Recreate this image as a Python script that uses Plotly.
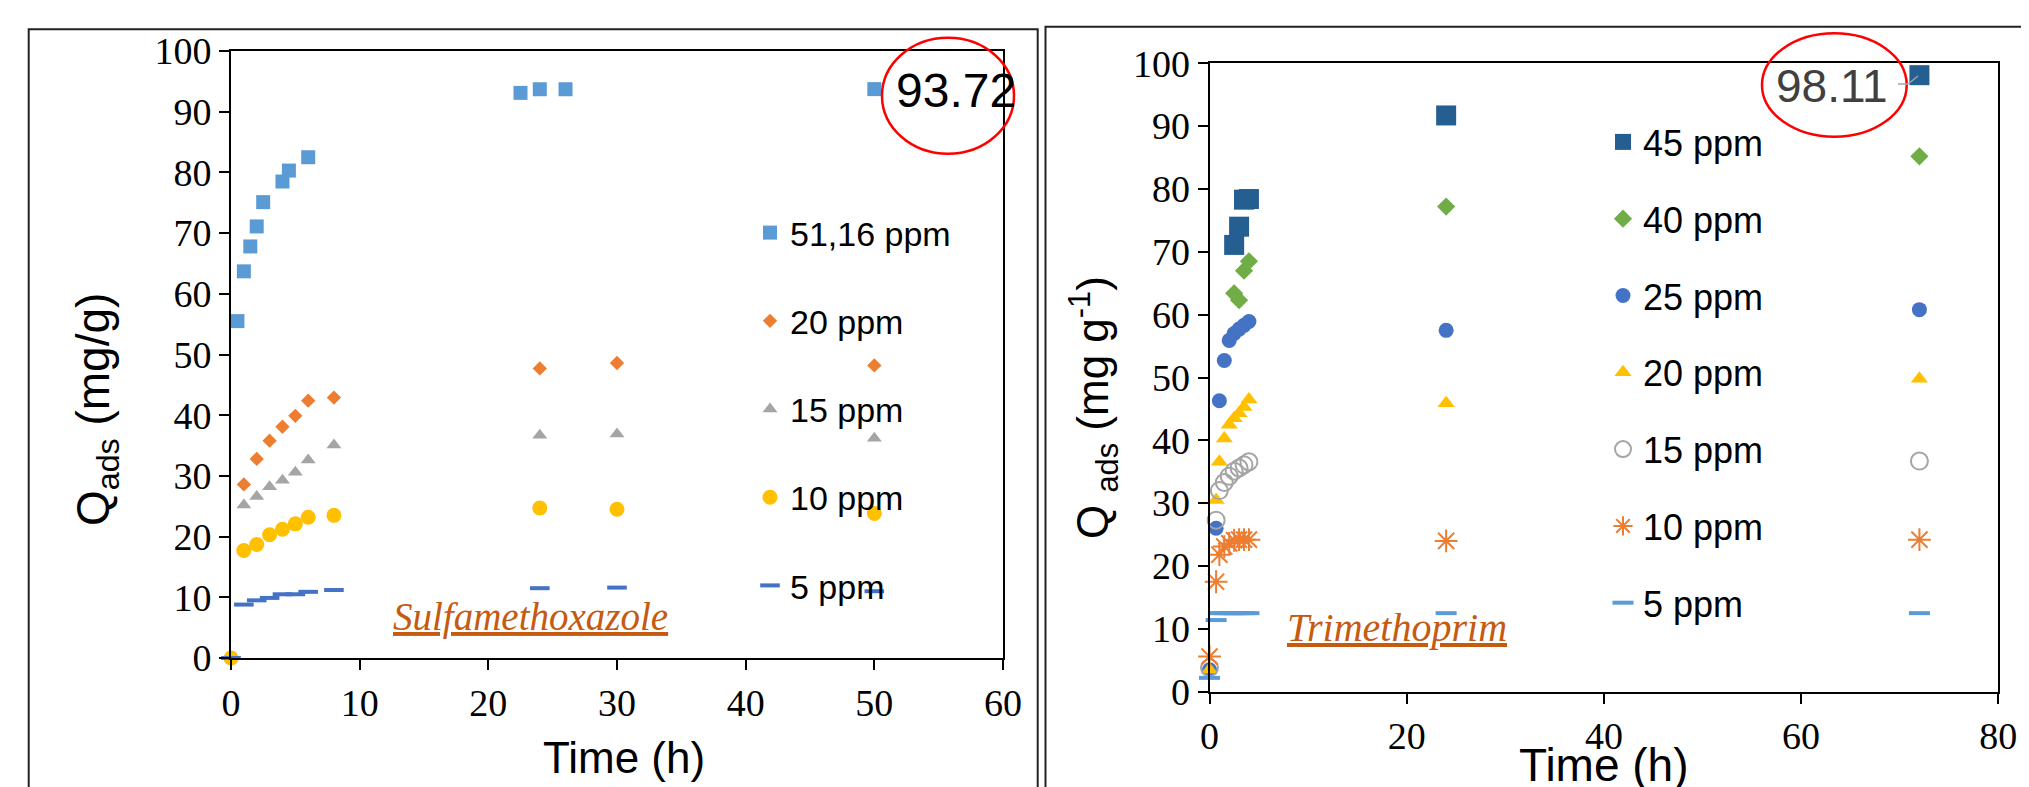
import plotly.graph_objects as go

W, H = 2029, 787
OFFSET = 8  # page body margin of the html page

# ---------------- data: Sulfamethoxazole (left) ----------------
SMX_TIME_51 = [0.5, 1, 1.5, 2, 2.5, 4, 4.5, 6, 22.5, 24, 26, 50]
SMX_Q_51 = [55.5, 63.7, 67.8, 71.1, 75.1, 78.5, 80.3, 82.5, 93.1, 93.7, 93.7, 93.72]
SMX_TIME = [0, 1, 2, 3, 4, 5, 6, 8, 24, 30, 50]
SMX_Q_20 = [0, 28.6, 32.8, 35.8, 38.1, 39.9, 42.4, 42.9, 47.7, 48.6, 48.2]
SMX_Q_15 = [0, 25.2, 26.6, 28.2, 29.3, 30.6, 32.6, 35.1, 36.7, 36.9, 36.2]
SMX_Q_10 = [0, 17.7, 18.7, 20.3, 21.2, 22.1, 23.2, 23.5, 24.7, 24.5, 23.8]
SMX_Q_5 = [0, 8.8, 9.5, 9.9, 10.5, 10.5, 10.9, 11.2, 11.5, 11.6, 11.0]
SMX_LABELS = ["51,16 ppm", "20 ppm", "15 ppm", "10 ppm", "5 ppm"]
SMX_X_TICKS = [0, 10, 20, 30, 40, 50, 60]

# ---------------- data: Trimethoprim (right) ----------------
TMP_TIME = [0, 0.67, 1, 1.5, 2, 2.5, 3, 3.5, 4, 24, 72]
TMP_Q_45 = [None, None, None, None, None, 71.1, 74.0, 78.3, 78.4, 91.7, 98.11]
TMP_Q_40 = [None, None, None, None, None, 63.4, 62.3, 67.0, 68.5, 77.2, 85.2]
TMP_Q_25 = [3.5, 26.0, 46.3, 52.7, 55.9, 57.0, 57.7, 58.3, 58.9, 57.5, 60.8]
TMP_Q_20 = [3.5, 30.5, 36.6, 40.3, 42.5, 43.5, 44.3, 45.3, 46.5, 45.9, 49.8]
TMP_Q_15 = [3.8, 27.3, 32.0, 33.3, 34.3, 35.1, 35.6, 36.1, 36.6, None, 36.7]
TMP_Q_10 = [5.6, 17.5, 21.8, 23.1, 23.6, 24.1, 24.2, 24.2, 24.2, 24.0, 24.2]
TMP_Q_5 = [2.2, 11.4, 12.5, 12.5, 12.5, 12.5, 12.5, 12.5, 12.5, 12.5, 12.5]
TMP_LABELS = ["45 ppm", "40 ppm", "25 ppm", "20 ppm", "15 ppm", "10 ppm", "5 ppm"]
TMP_X_TICKS = [0, 20, 40, 60, 80]
Y_TICKS = [0, 10, 20, 30, 40, 50, 60, 70, 80, 90, 100]

SERIF = "Liberation Serif, Times New Roman, serif"
SANS = "Liberation Sans, Arial, sans-serif"


def px(x):
    return (x - OFFSET) / W


def py(y):
    return 1 - (y - OFFSET) / H


fig = go.Figure()

left_series = [
    (SMX_TIME_51, SMX_Q_51, dict(symbol="square", size=14, color="#5B9BD5")),
    (SMX_TIME, SMX_Q_20, dict(symbol="diamond", size=11, color="#ED7D31")),
    (SMX_TIME, SMX_Q_15, dict(symbol="triangle-up", size=13, color="#A5A5A5")),
    (SMX_TIME, SMX_Q_10, dict(symbol="circle", size=15, color="#FFC000")),
    (SMX_TIME, SMX_Q_5, dict(symbol="line-ew", size=14, color="#4472C4",
                              line=dict(color="#4472C4", width=4))),
]
for i, (xs, ys, mk) in enumerate(left_series):
    fig.add_trace(go.Scatter(
        x=xs, y=ys, mode="markers", marker=mk, name=SMX_LABELS[i],
        xaxis="x", yaxis="y", legend="legend", legendgroup="L%d" % i,
        cliponaxis=False, showlegend=True))

right_series = [
    (TMP_Q_45, dict(symbol="square", size=20, color="#255E91")),
    (TMP_Q_40, dict(symbol="diamond", size=14, color="#70AD47")),
    (TMP_Q_25, dict(symbol="circle", size=15, color="#4472C4")),
    (TMP_Q_20, dict(symbol="triangle-up", size=15, color="#FFC000")),
    (TMP_Q_15, dict(symbol="circle-open", size=17, color="#A5A5A5",
                    line=dict(color="#A5A5A5", width=2))),
    (TMP_Q_10, dict(symbol="asterisk-open", size=19, color="#ED7D31",
                    line=dict(color="#ED7D31", width=2))),
    (TMP_Q_5, dict(symbol="line-ew", size=15, color="#5B9BD5",
                   line=dict(color="#5B9BD5", width=4))),
]
for i, (ys, mk) in enumerate(right_series):
    fig.add_trace(go.Scatter(
        x=TMP_TIME, y=ys, mode="markers", marker=mk, name=TMP_LABELS[i],
        xaxis="x2", yaxis="y2", legend="legend2", legendgroup="R%d" % i,
        cliponaxis=False, showlegend=True))

axis_common = dict(
    showline=True, linecolor="black", linewidth=2, mirror=True,
    ticks="outside", ticklen=10, tickwidth=2, tickcolor="black",
    showgrid=False, zeroline=False, automargin=False,
    tickfont=dict(family=SERIF, size=38, color="black"),
)

fig.update_layout(
    template="none",
    width=W, height=H,
    margin=dict(l=0, r=0, t=0, b=0, pad=0, autoexpand=False),
    paper_bgcolor="white", plot_bgcolor="white",
    xaxis=dict(domain=[px(231), px(1003)], range=[0, 60], tickvals=SMX_X_TICKS,
               anchor="y", **axis_common),
    yaxis=dict(domain=[py(658), py(51)], range=[0, 100], tickvals=Y_TICKS,
               anchor="x", **axis_common),
    xaxis2=dict(domain=[px(1209.5), px(1998.3)], range=[0, 80], tickvals=TMP_X_TICKS,
                anchor="y2", **axis_common),
    yaxis2=dict(domain=[py(691.7), py(63.3)], range=[0, 100], tickvals=Y_TICKS,
                anchor="x2", **axis_common),
    legend=dict(x=px(750), y=py(204), xanchor="left", yanchor="top",
                bgcolor="rgba(0,0,0,0)", borderwidth=0,
                font=dict(family=SANS, size=34, color="black"),
                tracegroupgap=41, traceorder="grouped"),
    legend2=dict(x=px(1603), y=py(112), xanchor="left", yanchor="top",
                 bgcolor="rgba(0,0,0,0)", borderwidth=0,
                 font=dict(family=SANS, size=36, color="black"),
                 tracegroupgap=27, traceorder="grouped"),
)

annotations = [
    # axis titles
    dict(text="Time (h)", x=px(624), y=py(757), xref="paper", yref="paper",
         xanchor="center", yanchor="middle", showarrow=False,
         font=dict(family=SANS, size=44, color="black")),
    dict(text="Time (h)", x=px(1604), y=py(765), xref="paper", yref="paper",
         xanchor="center", yanchor="middle", showarrow=False,
         font=dict(family=SANS, size=46, color="black")),
    dict(text="Q<sub>ads</sub> (mg/g)", x=px(96), y=py(410), xref="paper", yref="paper",
         xanchor="center", yanchor="middle", showarrow=False, textangle=-90,
         font=dict(family=SANS, size=46, color="black")),
    dict(text="Q <sub>ads</sub> (mg g<sup>-1</sup>)", x=px(1093), y=py(408),
         xref="paper", yref="paper", xanchor="center", yanchor="middle",
         showarrow=False, textangle=-90,
         font=dict(family=SANS, size=44, color="black")),
    # compound labels
    dict(text="<i><u>Sulfamethoxazole</u></i>", x=px(391), y=py(617), xref="paper",
         yref="paper", xanchor="left", yanchor="middle", showarrow=False,
         font=dict(family=SERIF, size=39, color="#C55A11")),
    dict(text="<i><u>Trimethoprim</u></i>", x=px(1285), y=py(627), xref="paper",
         yref="paper", xanchor="left", yanchor="middle", showarrow=False,
         font=dict(family=SERIF, size=40, color="#C55A11")),
    # highlighted values
    dict(text="93.72", x=px(956), y=py(90), xref="paper", yref="paper",
         xanchor="center", yanchor="middle", showarrow=False,
         font=dict(family=SANS, size=48, color="black")),
    dict(text="98.11", x=px(1832), y=py(86), xref="paper", yref="paper",
         xanchor="center", yanchor="middle", showarrow=False,
         font=dict(family=SANS, size=46, color="#404040")),
]
fig.update_layout(annotations=annotations)

shapes = [
    # outer panel frames
    dict(type="rect", xref="paper", yref="paper", x0=px(28.7), x1=px(1037.7),
         y0=py(820), y1=py(29.3), line=dict(color="#222222", width=2)),
    dict(type="rect", xref="paper", yref="paper", x0=px(1045.5), x1=px(2060),
         y0=py(820), y1=py(26.7), line=dict(color="#222222", width=2)),
    # red ellipses
    dict(type="circle", xref="paper", yref="paper", x0=px(882), x1=px(1014),
         y0=py(153.7), y1=py(37.7), line=dict(color="red", width=2.5)),
    dict(type="circle", xref="paper", yref="paper", x0=px(1762), x1=px(1906.7),
         y0=py(136.7), y1=py(33.3), line=dict(color="red", width=2.5)),
    # leader line of data label
    dict(type="line", xref="paper", yref="paper", x0=px(1898), x1=px(1908),
         y0=py(84), y1=py(84), line=dict(color="#A5A5A5", width=1.5)),
    dict(type="line", xref="paper", yref="paper", x0=px(1908), x1=px(1918),
         y0=py(84), y1=py(76), line=dict(color="#A5A5A5", width=1.5)),
]
fig.update_layout(shapes=shapes)

fig.write_html("out.html")
